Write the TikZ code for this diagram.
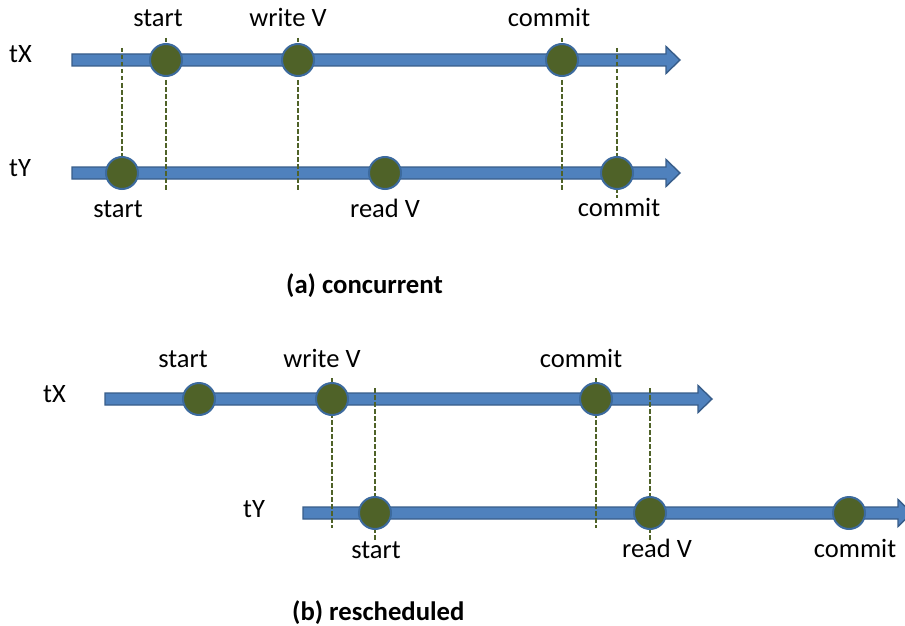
\documentclass[tikz,border=0pt]{standalone}
\usepackage{fontspec}
\setmainfont{Carlito}
\definecolor{barfill}{HTML}{4F81BD}
\definecolor{barline}{HTML}{385D8A}
\definecolor{evfill}{HTML}{4F6228}
\definecolor{evline}{HTML}{3C6A9E}
% timeline arrow: x start, x tip, y centre
\newcommand\timeline[3]{%
  \draw[bar] (#1,#3-6) -- (#2-14,#3-6) -- (#2-14,#3-13.5) -- (#2,#3)
    -- (#2-14,#3+13.5) -- (#2-14,#3+6) -- (#1,#3+6) -- cycle;}
\begin{document}
\begin{tikzpicture}[x=1pt,y=-1pt,
  bar/.style={fill=barfill,draw=barline,line width=1.4pt,line join=miter},
  event/.style={circle,fill=evfill,draw=evline,line width=2pt,minimum size=32pt,inner sep=0pt},
  guide/.style={draw=evfill,line width=1.5pt,dash pattern=on 4.5pt off 2.5pt},
  lbl/.style={anchor=base,inner sep=0pt,font=\fontsize{26.5}{30}\selectfont},
  ttl/.style={anchor=base west,inner sep=0pt,font=\bfseries\fontsize{26.7}{30}\selectfont}]
\useasboundingbox (0,0) rectangle (905,626);

% ---------- (a) concurrent ----------
\timeline{72}{680}{60}
\timeline{72}{680}{173}
\node[lbl,anchor=base west] (aX) at (9,63) {tX};
\node[lbl,anchor=base west] (aY) at (9,176) {tY};

\coordinate (ag1t) at (122,48);  \coordinate (ag1b) at (122,190);
\coordinate (ag2t) at (166,38);  \coordinate (ag2b) at (166,190);
\coordinate (ag3t) at (298,38);  \coordinate (ag3b) at (298,190);
\coordinate (ag4t) at (562,38);  \coordinate (ag4b) at (562,190);
\coordinate (ag5t) at (617,48);  \coordinate (ag5b) at (617,198);
\foreach \g in {ag1,ag2,ag3,ag4,ag5} \draw[guide] (\g t) -- (\g b);

\node[event] (aXs) at (166,60) {};
\node[event] (aXw) at (298,60) {};
\node[event] (aXc) at (562,60) {};
\node[event] (aYs) at (122,173) {};
\node[event] (aYr) at (385,173) {};
\node[event] (aYc) at (617,173) {};

\node[lbl] (laXs) at (158,27) {start};
\node[lbl] (laXw) at (288,27) {write V};
\node[lbl] (laXc) at (549,27) {commit};
\node[lbl] (laYs) at (118,217) {start};
\node[lbl] (laYr) at (385,217) {read V};
\node[lbl] (laYc) at (619,216) {commit};

\node[ttl] (ta) at (286,293) {(a) concurrent};

% ---------- (b) rescheduled ----------
\timeline{105}{712}{399}
\timeline{303}{912}{513}
\node[lbl,anchor=base west] (bX) at (43,402) {tX};
\node[lbl,anchor=base west] (bY) at (243,517) {tY};

\coordinate (bg1t) at (332,378); \coordinate (bg1b) at (332,528);
\coordinate (bg2t) at (375,388); \coordinate (bg2b) at (375,540);
\coordinate (bg3t) at (596,378); \coordinate (bg3b) at (596,528);
\coordinate (bg4t) at (650,388); \coordinate (bg4b) at (650,540);
\foreach \g in {bg1,bg2,bg3,bg4} \draw[guide] (\g t) -- (\g b);

\node[event] (bXs) at (199,399) {};
\node[event] (bXw) at (332,399) {};
\node[event] (bXc) at (596,399) {};
\node[event] (bYs) at (375,513) {};
\node[event] (bYr) at (650,513) {};
\node[event] (bYc) at (849,513) {};

\node[lbl] (lbXs) at (183,367) {start};
\node[lbl] (lbXw) at (322,367) {write V};
\node[lbl] (lbXc) at (581,367) {commit};
\node[lbl] (lbYs) at (376,558) {start};
\node[lbl] (lbYr) at (657,557) {read V};
\node[lbl] (lbYc) at (855,557) {commit};

\node[ttl] (tb) at (292,620) {(b) rescheduled};
\end{tikzpicture}
\end{document}
